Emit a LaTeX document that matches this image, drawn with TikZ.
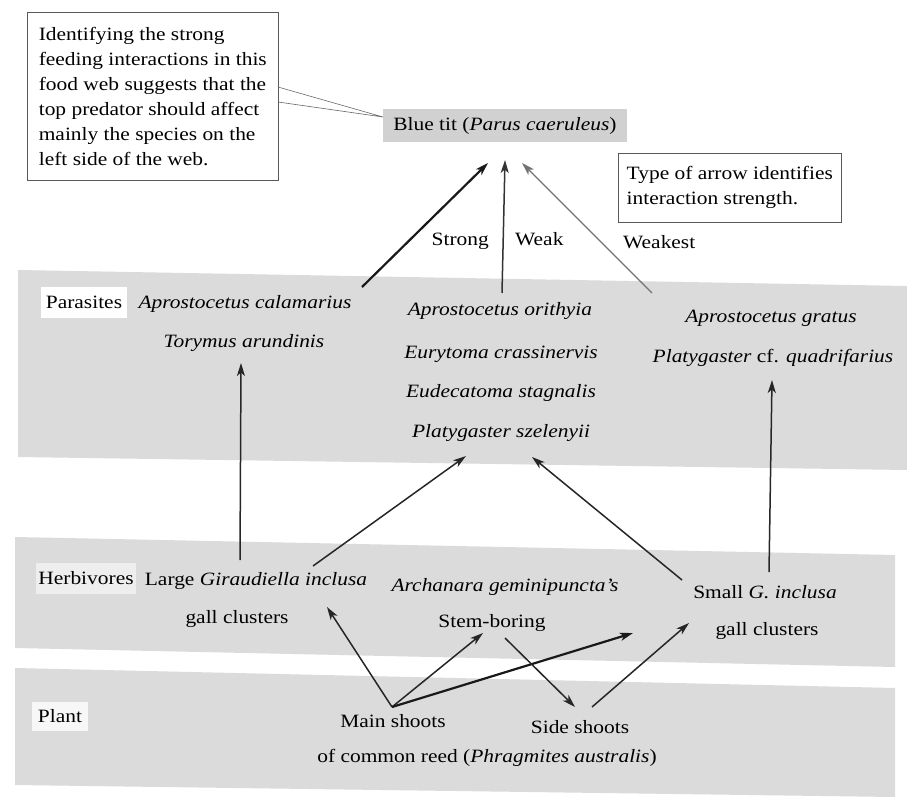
\documentclass[tikz,border=0pt]{standalone}
\usepackage{fontspec}
\setmainfont{Liberation Serif}[FakeStretch=1.14]
\usetikzlibrary{arrows.meta}
\newcommand{\fwfont}{\fontsize{18.8}{25}\selectfont}
\tikzset{
  lbl/.style={inner sep=0pt, anchor=base, font=\fwfont},
  band/.style={fill=black!14, draw=none},
  tag/.style={fill=white, inner sep=0pt, font=\fwfont},
  framebox/.style={draw=black!65, line width=0.6pt, fill=white, align=left, font=\fwfont, inner sep=0pt},
  headtip/.style={-{Stealth[length=13pt,width=8pt,inset=3.5pt]}},
  arr/.style={headtip, line width=1.5pt, draw=black!85},
  strongarr/.style={headtip, line width=2.2pt, draw=black!90},
  weakarr/.style={headtip, line width=1.5pt, draw=black!80},
  weakestarr/.style={headtip, line width=1.1pt, draw=black!55},
}
\begin{document}
\begin{tikzpicture}[x=1pt,y=-1pt]
\useasboundingbox (0,0) rectangle (907,797);
\fill[white] (0,0) rectangle (907,797);
% bands
\path[band] (18,270) -- (907,286) -- (907,470) -- (18,457) -- cycle;
\path[band] (15,537) -- (895,555) -- (895,667) -- (15,648) -- cycle;
\path[band] (15,668) -- (895,688) -- (895,797) -- (15,785) -- cycle;

% top
\node[framebox, anchor=north west, minimum width=251, minimum height=168] (note) at (27,12)
  {Identifying the strong\\feeding interactions in this\\food web suggests that the\\top predator should affect\\mainly the species on the\\left side of the web.};
\node[fill=black!18, inner sep=0pt, minimum width=244, minimum height=33, font=\fwfont] (tit) at (505,125.5)
  {Blue tit (\textit{Parus caeruleus})};
\coordinate (pa) at (278,87);
\coordinate (pb) at (278,102);
\coordinate (pt) at (383,117);
\draw[black!60, line width=0.6pt] (pa) -- (pt) -- (pb);
\node[framebox, anchor=north west, minimum width=223, minimum height=69] (type) at (618,153)
  {Type of arrow identifies\\interaction strength.};

\node[lbl, anchor=base east] (lstrong) at (489,245) {Strong};
\node[lbl, anchor=base west] (lweak) at (515,245) {Weak};
\node[lbl, anchor=base west] (lweakest) at (623,248) {Weakest};

% parasites
\node[tag, minimum width=86, minimum height=31] (par) at (84,302) {Parasites};
\node[lbl] (acal) at (245,308) {\textit{Aprostocetus calamarius}};
\node[lbl] (tory) at (244,347) {\textit{Torymus arundinis}};
\node[lbl] (aori) at (500,315) {\textit{Aprostocetus orithyia}};
\node[lbl] (eury) at (501,358) {\textit{Eurytoma crassinervis}};
\node[lbl] (eude) at (501,397) {\textit{Eudecatoma stagnalis}};
\node[lbl] (psze) at (501,437) {\textit{Platygaster szelenyii}};
\node[lbl] (agra) at (771,322) {\textit{Aprostocetus gratus}};
\node[lbl] (pqua) at (773,362) {\textit{Platygaster} cf. \textit{quadrifarius}};

% herbivores
\node[tag, fill opacity=0.55, text opacity=1, minimum width=100, minimum height=31] (herb) at (86,578) {Herbivores};
\node[lbl] (lgi) at (256,585) {Large \textit{Giraudiella inclusa}};
\node[lbl] (lgc) at (237,623) {gall clusters};
\node[lbl] (arch) at (505,591) {\textit{Archanara geminipuncta's}};
\node[lbl] (stem) at (492,627) {Stem-boring};
\node[lbl] (sgi) at (765,598) {Small \textit{G. inclusa}};
\node[lbl] (sgc) at (767,635) {gall clusters};

% plant
\node[tag, fill opacity=0.8, text opacity=1, minimum width=56, minimum height=29] (plant) at (60,716) {Plant};
\node[lbl] (mains) at (393,727) {Main shoots};
\node[lbl] (sides) at (580,733) {Side shoots};
\node[lbl] (reed) at (487,762) {of common reed (\textit{Phragmites australis})};

% arrow end points
\coordinate (s1) at (362,287); \coordinate (s2) at (488,163);
\coordinate (w1) at (502,293); \coordinate (w2) at (505,160);
\coordinate (k1) at (652,293); \coordinate (k2) at (522,163);
\coordinate (lv1) at (240,560); \coordinate (lv2) at (241,363);
\coordinate (rv1) at (769,572); \coordinate (rv2) at (772,380);
\coordinate (ls1) at (313,566); \coordinate (ls2) at (466,456);
\coordinate (rs1) at (682,580); \coordinate (rs2) at (532,457);
\coordinate (m0) at (392,707);
\coordinate (mL) at (327,607);
\coordinate (mS) at (483,633);
\coordinate (mG) at (633,633);
\coordinate (sb1) at (505,638); \coordinate (sb2) at (575,707);
\coordinate (ss1) at (592,707); \coordinate (ss2) at (689,623);

\draw[strongarr] (s1) -- (s2);
\draw[weakarr] (w1) -- (w2);
\draw[weakestarr] (k1) -- (k2);
\draw[arr] (lv1) -- (lv2);
\draw[arr] (rv1) -- (rv2);
\draw[arr] (ls1) -- (ls2);
\draw[arr] (rs1) -- (rs2);
\draw[arr] (m0) -- (mL);
\draw[arr] (m0) -- (mS);
\draw[strongarr] (m0) -- (mG);
\draw[arr] (sb1) -- (sb2);
\draw[arr] (ss1) -- (ss2);
\end{tikzpicture}
\end{document}
